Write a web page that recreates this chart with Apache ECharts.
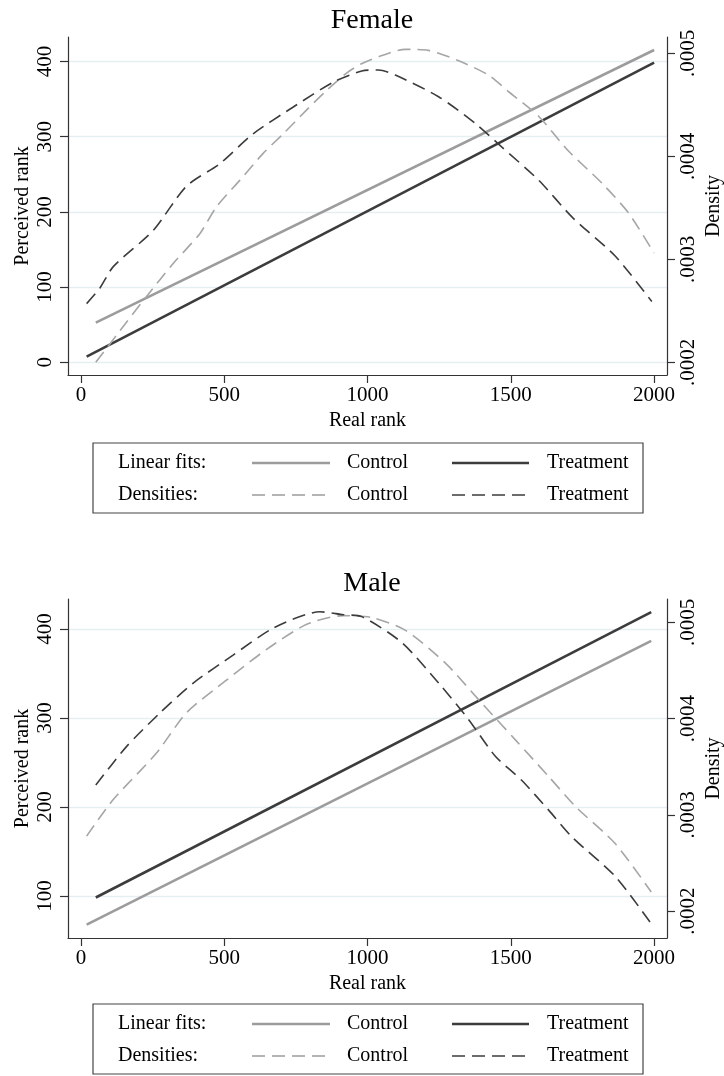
<!DOCTYPE html>
<html>
<head>
<meta charset="utf-8">
<script src="https://cdn.jsdelivr.net/npm/echarts@6/dist/echarts.min.js"></script>
<style>
html,body{margin:0;padding:0;background:#fff;}
#c{width:724px;height:1076px;}
</style>
</head>
<body>
<div id="c"></div>
<script>
// ---------- DATA ----------
const xTicks = [0, 500, 1000, 1500, 2000];
const femaleLeftTicks = [0, 100, 200, 300, 400];
const femaleRightTicks = [0.0002, 0.0003, 0.0004, 0.0005];
const maleLeftTicks = [100, 200, 300, 400];
const maleRightTicks = [0.0002, 0.0003, 0.0004, 0.0005];

// Female linear fits (real rank -> perceived rank)
const femaleFitControlX = [52, 2000];
const femaleFitControlY = [52.7, 415.3];
const femaleFitTreatX = [20, 2000];
const femaleFitTreatY = [7.5, 398.4];

// Female densities
const femaleDensControlX = [52, 159, 229, 322, 415, 473, 555, 636, 706, 787, 857, 927, 979, 1050, 1132, 1213, 1318, 1422, 1492, 1597, 1702, 1818, 1911, 2000];
const femaleDensControlY = [0.000200, 0.000239, 0.000264, 0.000296, 0.000325, 0.000351, 0.000377, 0.000403, 0.000422, 0.000445, 0.000464, 0.000481, 0.000490, 0.000498, 0.000504, 0.000503, 0.000493, 0.000479, 0.000463, 0.000439, 0.000405, 0.000374, 0.000345, 0.000306];
const femaleDensTreatX = [20, 66, 113, 252, 368, 485, 601, 741, 880, 980, 1038, 1097, 1248, 1376, 1469, 1597, 1714, 1865, 1992];
const femaleDensTreatY = [0.000257, 0.000272, 0.000293, 0.000328, 0.000371, 0.000393, 0.000422, 0.000448, 0.000472, 0.000483, 0.000484, 0.000479, 0.000458, 0.000432, 0.000409, 0.000377, 0.000341, 0.000303, 0.000259];

// Male linear fits
const maleFitControlX = [20, 1990];
const maleFitControlY = [67.8, 386.8];
const maleFitTreatX = [52, 1990];
const maleFitTreatY = [98.2, 419.0];

// Male densities
const maleDensControlX = [20, 113, 263, 368, 508, 648, 788, 915, 1015, 1131, 1271, 1399, 1516, 1632, 1725, 1865, 1990];
const maleDensControlY = [0.000278, 0.000316, 0.000364, 0.000406, 0.000440, 0.000472, 0.000498, 0.000507, 0.000505, 0.000492, 0.000458, 0.000416, 0.000378, 0.000340, 0.000309, 0.000270, 0.000220];
const maleDensTreatX = [52, 159, 276, 392, 531, 671, 834, 915, 980, 1120, 1248, 1353, 1446, 1538, 1632, 1714, 1865, 1990];
const maleDensTreatY = [0.000331, 0.000371, 0.000406, 0.000437, 0.000466, 0.000494, 0.000511, 0.000508, 0.000506, 0.000479, 0.000437, 0.000399, 0.000361, 0.000336, 0.000305, 0.000277, 0.000236, 0.000187];

// ---------- STYLE ----------
const FONT = '"Liberation Serif", "DejaVu Serif", serif';
const LIGHT = '#9c9c9c';
const DARK = '#3c3c3c';
const AXIS = '#333333';
const GRIDC = '#e5eef1';
const DASH = [13, 7];

function zip(xs, ys) { return xs.map((x, i) => [x, ys[i]]); }
function densFmt(v) { return v.toFixed(4).replace(/^0/, ''); }
function plainFmt(v) { return String(v); }

function xAxisFor(gridIndex) {
  return {
    type: 'value', gridIndex: gridIndex, min: -45, max: 2045,
    name: 'Real rank', nameLocation: 'middle', nameGap: 36, nameMoveOverlap: false,
    nameTextStyle: { fontFamily: FONT, fontSize: 20, color: '#000' },
    axisLine: { show: true, onZero: false, lineStyle: { color: AXIS, width: 1.2 } },
    axisTick: { show: true, length: 8, lineStyle: { color: AXIS, width: 1.2 }, customValues: xTicks },
    axisLabel: { fontFamily: FONT, fontSize: 21, color: '#000', margin: 10, customValues: xTicks, formatter: plainFmt },
    splitLine: { show: false }
  };
}
function leftAxisFor(gridIndex, min, max, ticks) {
  return {
    type: 'value', gridIndex: gridIndex, position: 'left', min: min, max: max,
    name: 'Perceived rank', nameLocation: 'middle', nameGap: 35, nameRotate: 90, nameMoveOverlap: false,
    nameTextStyle: { fontFamily: FONT, fontSize: 20, color: '#000' },
    axisLine: { show: true, onZero: false, lineStyle: { color: AXIS, width: 1.2 } },
    axisTick: { show: true, length: 8, lineStyle: { color: AXIS, width: 1.2 }, customValues: ticks },
    axisLabel: { fontFamily: FONT, fontSize: 21, color: '#000', margin: 12, rotate: 90, customValues: ticks, formatter: plainFmt },
    splitLine: { show: true, lineStyle: { color: GRIDC, width: 1.3 }, customValues: ticks }
  };
}
function rightAxisFor(gridIndex, min, max, ticks) {
  return {
    type: 'value', gridIndex: gridIndex, position: 'right', min: min, max: max,
    name: 'Density', nameLocation: 'middle', nameGap: 37, nameRotate: 90, nameMoveOverlap: false,
    nameTextStyle: { fontFamily: FONT, fontSize: 20, color: '#000' },
    axisLine: { show: true, onZero: false, lineStyle: { color: AXIS, width: 1.2 } },
    axisTick: { show: true, length: 8, lineStyle: { color: AXIS, width: 1.2 }, customValues: ticks },
    axisLabel: { fontFamily: FONT, fontSize: 21, color: '#000', margin: 11, rotate: 90, customValues: ticks, formatter: densFmt },
    splitLine: { show: false }
  };
}
function lineSeries(xi, yi, data, color, width, dashed) {
  return {
    type: 'line', xAxisIndex: xi, yAxisIndex: yi, data: data,
    showSymbol: false, symbol: 'none', silent: true, animation: false,
    smooth: dashed ? 0.25 : false,
    lineStyle: { color: color, width: width, type: dashed ? DASH : 'solid', cap: 'butt' }
  };
}

function legendGraphics(top) {
  const g = [];
  g.push({ type: 'rect', shape: { x: 93, y: top, width: 550, height: 70 }, style: { fill: '#fff', stroke: '#444', lineWidth: 1.2 } });
  const rows = [
    { y: top + 20, label: 'Linear fits:', dash: null, w: 2.6 },
    { y: top + 52, label: 'Densities:', dash: DASH, w: 1.6 }
  ];
  rows.forEach(r => {
    g.push({ type: 'text', x: 118, y: r.y, style: { text: r.label, fontFamily: FONT, fontSize: 20, fill: '#000', align: 'left', verticalAlign: 'middle' } });
    g.push({ type: 'line', shape: { x1: 252, y1: r.y, x2: 330, y2: r.y }, style: { stroke: LIGHT, lineWidth: r.w, lineDash: r.dash } });
    g.push({ type: 'text', x: 347, y: r.y, style: { text: 'Control', fontFamily: FONT, fontSize: 20, fill: '#000', align: 'left', verticalAlign: 'middle' } });
    g.push({ type: 'line', shape: { x1: 452, y1: r.y, x2: 529, y2: r.y }, style: { stroke: DARK, lineWidth: r.w, lineDash: r.dash } });
    g.push({ type: 'text', x: 547, y: r.y, style: { text: 'Treatment', fontFamily: FONT, fontSize: 20, fill: '#000', align: 'left', verticalAlign: 'middle' } });
  });
  return g;
}

const chart = echarts.init(document.getElementById('c'), null, { renderer: 'canvas' });
chart.setOption({
  backgroundColor: '#fff',
  animation: false,
  title: [
    { text: 'Female', left: 367, top: 2, textAlign: 'center', textStyle: { fontFamily: FONT, fontSize: 28, fontWeight: 'normal', color: '#000' } },
    { text: 'Male', left: 367, top: 565, textAlign: 'center', textStyle: { fontFamily: FONT, fontSize: 28, fontWeight: 'normal', color: '#000' } }
  ],
  grid: [
    { left: 68, top: 37, width: 599, height: 338, containLabel: false, outerBoundsMode: 'none' },
    { left: 68, top: 599, width: 599, height: 339, containLabel: false, outerBoundsMode: 'none' }
  ],
  xAxis: [xAxisFor(0), xAxisFor(1)],
  yAxis: [
    leftAxisFor(0, -16.9, 432.6, femaleLeftTicks),
    rightAxisFor(0, 0.0001877, 0.000516, femaleRightTicks),
    leftAxisFor(1, 52.7, 433.8, maleLeftTicks),
    rightAxisFor(1, 0.0001722, 0.0005243, maleRightTicks)
  ],
  series: [
    lineSeries(0, 0, zip(femaleFitControlX, femaleFitControlY), LIGHT, 2.6, false),
    lineSeries(0, 0, zip(femaleFitTreatX, femaleFitTreatY), DARK, 2.6, false),
    lineSeries(0, 1, zip(femaleDensControlX, femaleDensControlY), '#a6a6a6', 1.6, true),
    lineSeries(0, 1, zip(femaleDensTreatX, femaleDensTreatY), DARK, 1.6, true),
    lineSeries(1, 2, zip(maleFitControlX, maleFitControlY), LIGHT, 2.6, false),
    lineSeries(1, 2, zip(maleFitTreatX, maleFitTreatY), DARK, 2.6, false),
    lineSeries(1, 3, zip(maleDensControlX, maleDensControlY), '#a6a6a6', 1.6, true),
    lineSeries(1, 3, zip(maleDensTreatX, maleDensTreatY), DARK, 1.6, true)
  ],
  graphic: legendGraphics(443).concat(legendGraphics(1004))
});
</script>
</body>
</html>
